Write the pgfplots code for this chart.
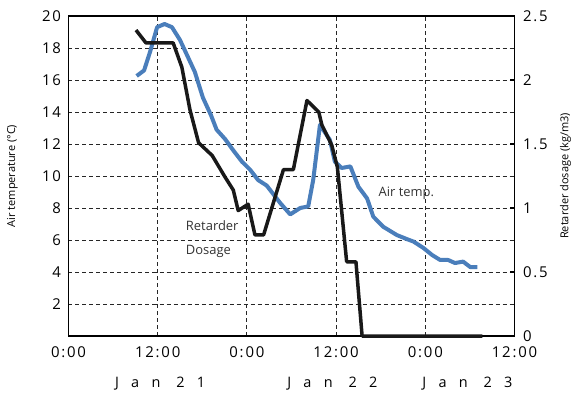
\documentclass[border=0pt]{standalone}
\usepackage{fontspec}
\setmainfont{Open Sans}
\usepackage{pgfplots}
\pgfplotsset{compat=1.18}
\definecolor{airblue}{RGB}{74,126,187}
\newfontfamily\tickfont[LetterSpace=12]{Open Sans}
\newfontfamily\datefont[LetterSpace=85]{Open Sans}
\begin{document}
\begin{tikzpicture}
\begin{axis}[
  scale only axis, width=446bp, height=320bp,
  xmin=0, xmax=60, ymin=0, ymax=20,
  xtick={0,12,24,36,48,60},
  xticklabels={0:00,12:00,0:00,12:00,0:00,12:00},
  ytick={2,4,...,20},
  grid=major,
  major grid style={dash pattern=on 4bp off 3bp, line width=0.8bp, black!85},
  major tick length=0pt,
  axis line style={line width=1.6bp, black},
  ticklabel style={font=\fontsize{15}{15}\selectfont\tickfont},
  /pgf/number format/assume math mode=true,
  xticklabel style={yshift=-7bp},
  yticklabel style={xshift=-4bp},
  clip=false,
]
\addplot[airblue, line width=4bp, line join=round] coordinates {
(9.17,16.25)(10.17,16.6)(11.0,17.8)(11.92,19.3)(12.92,19.5)(13.92,19.3)(15.0,18.5)(16.0,17.5)(17.0,16.5)(18.08,14.9)(19.17,13.8)(19.92,12.9)(21.08,12.3)(22.17,11.6)(23.33,10.9)(24.42,10.4)(25.5,9.75)(26.67,9.4)(27.5,8.9)(28.5,8.3)(29.83,7.6)(31.17,8.0)(32.25,8.1)(32.92,9.75)(33.83,13.2)(35.17,12.25)(35.83,10.9)(36.75,10.5)(37.92,10.6)(39.0,9.33)(40.17,8.6)(41.0,7.46)(42.33,6.83)(44.17,6.31)(45.5,6.06)(46.42,5.9)(47.75,5.5)(48.92,5.06)(50.0,4.75)(51.08,4.75)(52.0,4.56)(53.08,4.65)(54.08,4.3)(55.0,4.3)
};
\node[anchor=west, font=\fontsize{13}{13}\selectfont, black!80] at (axis cs:41.25,8.94) {Air temp.};
\node[anchor=west, font=\fontsize{13}{13}\selectfont, black!80] at (axis cs:15.33,6.9) {Retarder};
\node[anchor=west, font=\fontsize{13}{13}\selectfont, black!80] at (axis cs:15.33,5.3) {Dosage};
\node[font=\fontsize{14.5}{14.5}\selectfont\datefont] at (axis cs:12.33,0) [yshift=-48bp] {Jan 21};
\node[font=\fontsize{14.5}{14.5}\selectfont\datefont] at (axis cs:35.5,0) [yshift=-48bp] {Jan 22};
\node[font=\fontsize{14.5}{14.5}\selectfont\datefont] at (axis cs:53.67,0) [yshift=-48bp] {Jan 23};
\node[rotate=90, font=\fontsize{11}{11}\selectfont] at (rel axis cs:0,0.5) [yshift=56bp] {Air temperature (°C)};
\end{axis}
\begin{axis}[
  scale only axis, width=446bp, height=320bp,
  xmin=0, xmax=60, ymin=0, ymax=2.5,
  axis x line=none, axis y line*=right,
  ytick={0,0.5,...,2.5},
  yticklabels={0,0.5,1,1.5,2,2.5},
  major tick length=4bp, tick align=inside,
  tick style={line width=1.6bp, black},
  axis line style={line width=1.6bp, black},
  ticklabel style={font=\fontsize{15}{15}\selectfont\tickfont},
  /pgf/number format/assume math mode=true,
  yticklabel style={xshift=5bp},
  clip=false,
]
\addplot[black!90, line width=3.5bp, line join=round] coordinates {
(9.08,2.39)(10.42,2.29)(14.08,2.29)(15.25,2.10)(16.33,1.77)(17.5,1.51)(19.33,1.41)(21.08,1.24)(22.17,1.14)(22.83,0.98)(24.17,1.03)(25.08,0.79)(26.25,0.79)(28.92,1.30)(30.25,1.30)(32.08,1.84)(33.67,1.75)(34.08,1.65)(35.42,1.49)(36.17,1.32)(37.42,0.58)(38.67,0.58)(39.5,0)(55.67,0)
};
\node[rotate=90, font=\fontsize{11}{11}\selectfont] at (rel axis cs:1,0.5) [yshift=-51bp] {Retarder dosage (kg/m3)};
\end{axis}
\pgfresetboundingbox
\path[use as bounding box] (-68.5bp,-59bp) rectangle (511.5bp,336bp);
\end{tikzpicture}
\end{document}
